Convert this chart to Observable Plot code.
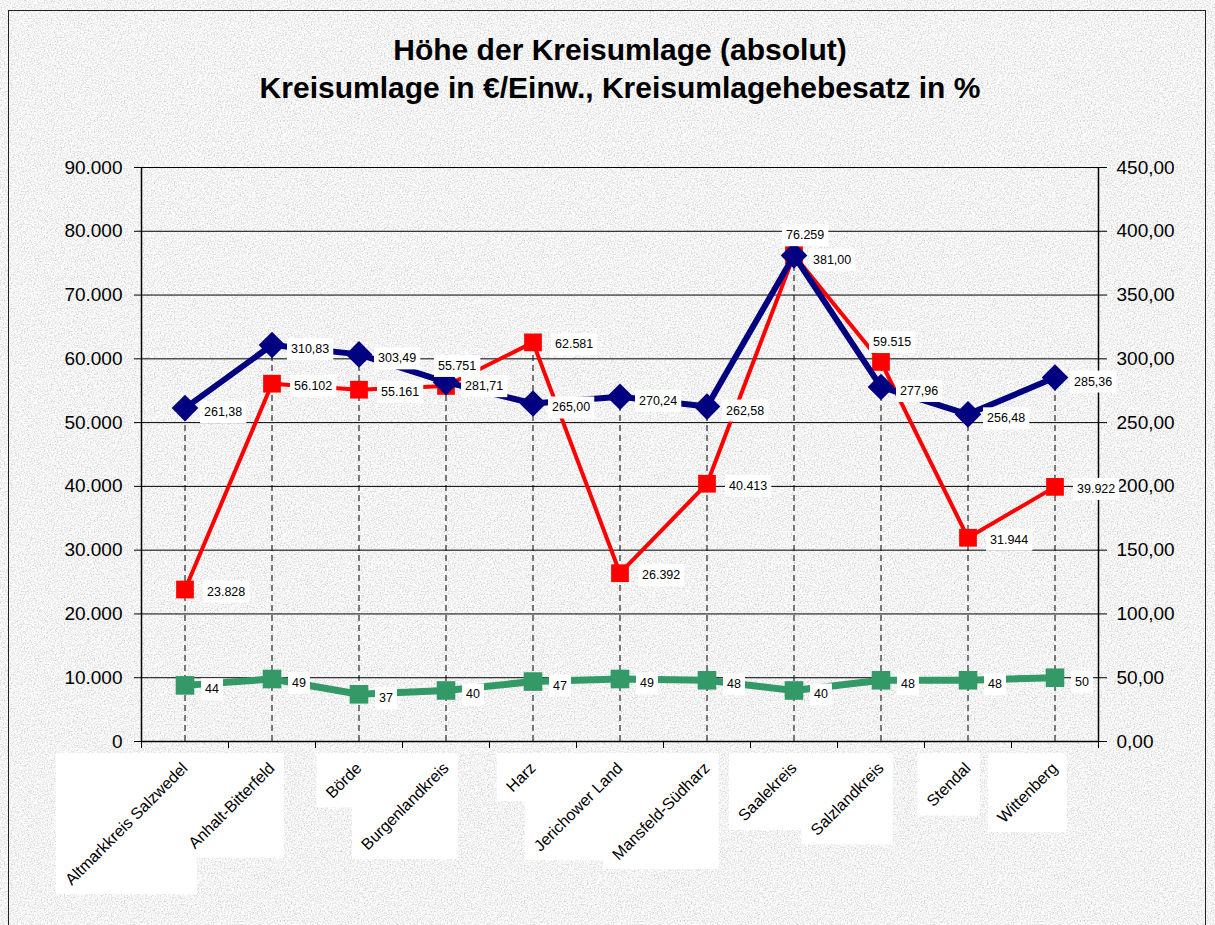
<!DOCTYPE html>
<html>
<head>
<meta charset="utf-8">
<script src="https://cdn.jsdelivr.net/npm/d3@7"></script>
<script src="https://cdn.jsdelivr.net/npm/@observablehq/plot@0.6"></script>
<style>
  html, body { margin: 0; padding: 0; }
  #page {
    position: relative; width: 1215px; height: 925px; overflow: hidden;
    background-color: #e4e4e4;
    font-family: "Liberation Sans", Arial, sans-serif;
  }
  #frame {
    position: absolute; left: 8px; top: 10px; width: 1198px; height: 1000px;
    border: 1.5px solid #222; border-bottom: none; box-sizing: border-box;
    pointer-events: none;
  }
  #title {
    position: absolute; left: 25px; top: 31px; width: 1190px;
    text-align: center; font-weight: bold; font-size: 30px; line-height: 38px; color: #000;
  }
  #chart { position: absolute; left: 0; top: 115px; }
</style>
</head>
<body>
<div id="page">
  <div id="title">
    <div>Höhe der Kreisumlage (absolut)</div>
    <div>Kreisumlage in €/Einw., Kreisumlagehebesatz in %</div>
  </div>
  <div id="chart"></div>
  <div id="frame"></div>
</div>
<script>
// ---- data ----
const categories = [
  "Altmarkkreis Salzwedel", "Anhalt-Bitterfeld", "Börde", "Burgenlandkreis", "Harz",
  "Jerichower Land", "Mansfeld-Südharz", "Saalekreis", "Salzlandkreis", "Stendal", "Wittenberg"
];
// Kreisumlage absolut (left axis)
const kreisumlageAbsolut = [23828, 56102, 55161, 55751, 62581, 26392, 40413, 76259, 59515, 31944, 39922];
// Kreisumlage in €/Einw. (right axis)
const kreisumlageProEinw = [261.38, 310.83, 303.49, 281.71, 265.00, 270.24, 262.58, 381.00, 277.96, 256.48, 285.36];
// Kreisumlagehebesatz in % (right axis)
const hebesatz = [44, 49, 37, 40, 47, 49, 48, 40, 48, 48, 50];
// tick values
const leftTicks = [0, 10000, 20000, 30000, 40000, 50000, 60000, 70000, 80000, 90000];
const rightTicks = [0, 50, 100, 150, 200, 250, 300, 350, 400, 450];

// ---- background texture (deterministic noise filter) ----
const tex = `<svg xmlns='http://www.w3.org/2000/svg' width='400' height='400'><filter id='n' x='0' y='0' width='100%' height='100%'><feTurbulence type='fractalNoise' baseFrequency='0.7' numOctaves='2' stitchTiles='stitch'/><feColorMatrix values='0.8 0 0 0 0.5  0.8 0 0 0 0.5  0.8 0 0 0 0.5  0 0 0 0 1'/></filter><rect width='100%' height='100%' filter='url(#n)'/></svg>`;
document.getElementById("page").style.backgroundImage = `url("data:image/svg+xml,${encodeURIComponent(tex)}")`;

// ---- derived table ----
const ratio = leftTicks[leftTicks.length - 1] / rightTicks[rightTicks.length - 1];
const rows = categories.map((c, i) => ({
  i, cat: c,
  abs: kreisumlageAbsolut[i],
  eur: kreisumlageProEinw[i], eurY: kreisumlageProEinw[i] * ratio,
  hs: hebesatz[i], hsY: hebesatz[i] * ratio
}));
rows.forEach(r => r.top = Math.max(r.abs, r.eurY, r.hsY));
const idx = rows.map(r => r.i);
const boundaries = d3.range(categories.length + 1).map(k => k - 0.5);

const de = d3.formatLocale({decimal: ",", thousands: ".", grouping: [3], currency: ["", " €"]});
const fmtInt = de.format(",.0f");
const fmt2 = de.format(",.2f");
const redAbove = r => Math.abs(r.abs - r.eurY) < 5000;

const labelStyle = {textAnchor: "start", fontSize: 12.5, fill: "black", ariaDescription: "vlabel"};

const chart = Plot.plot({
  width: 1215, height: 810,
  marginLeft: 141, marginRight: 117, marginTop: 52, marginBottom: 184,
  x: {type: "linear", domain: [-0.5, categories.length - 0.5]},
  y: {domain: [0, leftTicks[leftTicks.length - 1]]},
  style: {background: "transparent", fontFamily: "'Liberation Sans', Arial, sans-serif", color: "black", overflow: "visible"},
  marks: [
    Plot.gridY(leftTicks, {stroke: "#000", strokeOpacity: 1, strokeWidth: 1}),
    Plot.ruleX(rows, {x: "i", y1: 0, y2: "top", stroke: "#000", strokeWidth: 1, strokeDasharray: "6,4"}),
    Plot.ruleX([boundaries[0], boundaries[boundaries.length - 1]], {stroke: "#000", strokeWidth: 1.5}),
    Plot.ruleY([0], {stroke: "#000", strokeWidth: 1.5}),
    Plot.axisY(leftTicks, {anchor: "left", tickFormat: fmtInt, tickSize: 7, tickPadding: 12, fontSize: 19, label: null, stroke: "#000"}),
    Plot.axisY(rightTicks.map(v => v * ratio), {anchor: "right", tickFormat: d => fmt2(d / ratio), tickSize: 8, tickPadding: 10, fontSize: 19, label: null, stroke: "#000"}),
    Plot.axisX(boundaries, {tickFormat: () => "", tickSize: 7, label: null, stroke: "#000"}),
    Plot.axisX(idx, {tickFormat: i => categories[i], tickSize: 0, tickRotate: -45, tickPadding: 24, fontSize: 16, label: null, ariaDescription: "xlabels"}),
    // green: Hebesatz
    Plot.line(rows, {x: "i", y: "hsY", stroke: "#339966", strokeWidth: 7}),
    Plot.dot(rows, {x: "i", y: "hsY", symbol: "square", r: 10.5, fill: "#339966"}),
    // red: absolute
    Plot.line(rows, {x: "i", y: "abs", stroke: "#ff0000", strokeWidth: 4}),
    Plot.dot(rows, {x: "i", y: "abs", symbol: "square", r: 10, fill: "#ff0000"}),
    // blue: €/Einw.
    Plot.line(rows, {x: "i", y: "eurY", stroke: "#000080", strokeWidth: 6}),
    Plot.dot(rows, {x: "i", y: "eurY", symbol: "diamond2", r: 12, fill: "#000080"}),
    // value labels
    Plot.text(rows, {x: "i", y: "hsY", text: d => String(d.hs), dx: 20, dy: 4, ...labelStyle}),
    Plot.text(rows.filter(r => !redAbove(r)), {x: "i", y: "abs", text: d => fmtInt(d.abs), dx: 22, dy: 2, ...labelStyle}),
    Plot.text(rows.filter(redAbove), {x: "i", y: "abs", text: d => fmtInt(d.abs), dx: -8, dy: -20, ...labelStyle}),
    Plot.text(rows, {x: "i", y: "eurY", text: d => fmt2(d.eur), dx: 19, dy: 4, ...labelStyle})
  ]
});
document.getElementById("chart").appendChild(chart);

// white boxes behind value labels
chart.querySelectorAll('g[aria-description="vlabel"] text').forEach(t => {
  const b = t.getBBox();
  const r = document.createElementNS("http://www.w3.org/2000/svg", "rect");
  r.setAttribute("x", b.x - 4); r.setAttribute("y", b.y - 4);
  r.setAttribute("width", b.width + 8); r.setAttribute("height", b.height + 8);
  r.setAttribute("fill", "white"); r.setAttribute("stroke", "none");
  if (t.getAttribute("transform")) r.setAttribute("transform", t.getAttribute("transform"));
  t.parentNode.insertBefore(r, t);
});
// white boxes behind category labels
const svgBox = chart.getBoundingClientRect();
const bg = document.createElementNS("http://www.w3.org/2000/svg", "g");
chart.querySelectorAll('g[aria-description="xlabels"] text').forEach(t => {
  const b = t.getBoundingClientRect();
  const r = document.createElementNS("http://www.w3.org/2000/svg", "rect");
  r.setAttribute("x", b.left - svgBox.left - 6); r.setAttribute("y", b.top - svgBox.top - 6);
  r.setAttribute("width", b.width + 12); r.setAttribute("height", b.height + 12);
  r.setAttribute("fill", "white");
  bg.appendChild(r);
});
chart.insertBefore(bg, chart.firstChild.nextSibling);
</script>
</body>
</html>
